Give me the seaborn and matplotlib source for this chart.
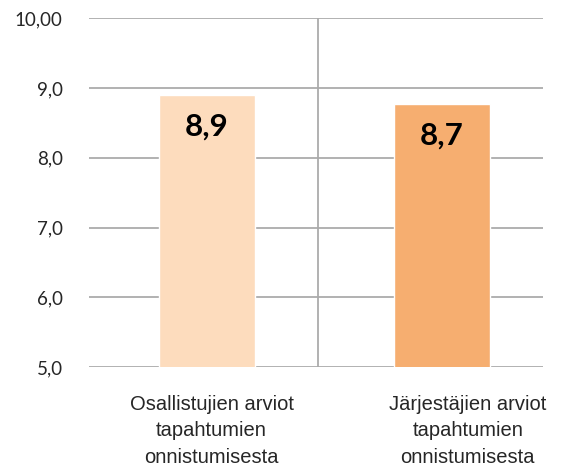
import matplotlib
matplotlib.use("Agg")
import matplotlib.pyplot as plt
import seaborn as sns

# Data
categories = ["Osallistujien arviot\ntapahtumien\nonnistumisesta",
              "Järjestäjien arviot\ntapahtumien\nonnistumisesta"]
values = [8.9, 8.77]
value_labels = ["8,9", "8,7"]
bar_colors = ["#FDDCBD", "#F6AE70"]
y_ticks = [5, 6, 7, 8, 9, 10]
y_tick_labels = ["5,0", "6,0", "7,0", "8,0", "9,0", "10,00"]

sns.set_style("white")
plt.rcParams['font.family'] = ['Lato', 'DejaVu Sans']

fig = plt.figure(figsize=(5.62, 4.66), dpi=100)
ax = fig.add_axes([0.1584, 0.2124, 0.8078, 0.7483])

sns.barplot(x=categories, y=values, hue=categories, palette=bar_colors,
            width=0.41, legend=False, saturation=1, ax=ax, zorder=3)

ax.set_ylim(5, 10)
ax.set_xlim(-0.502, 1.43)
ax.set_yticks(y_ticks)
ax.set_yticklabels(y_tick_labels, fontsize=13.5)

# horizontal gridlines and the category separator
ax.yaxis.grid(True, color="#ABABAB", linewidth=1.3, zorder=0)
ax.axvline(0.472, color="#ABABAB", linewidth=1.3, zorder=0)

ax.set_xticks([0.02, 1.11])
ax.set_xticklabels(categories, fontsize=14.5, family=['Liberation Sans'])
for t in ax.get_xticklabels():
    t.set_linespacing(1.5)
ax.tick_params(axis='x', length=0, pad=20)
ax.tick_params(axis='y', length=0, pad=19)
sns.despine(ax=ax, left=True, bottom=True)

for i, (v, lab) in enumerate(zip(values, value_labels)):
    ax.annotate(lab, xy=(i, v), xytext=(0, -23), textcoords="offset points",
                ha="center", va="center", fontsize=22.5, fontweight="bold",
                color="black", zorder=4)

fig.savefig("out.png", dpi=100)
